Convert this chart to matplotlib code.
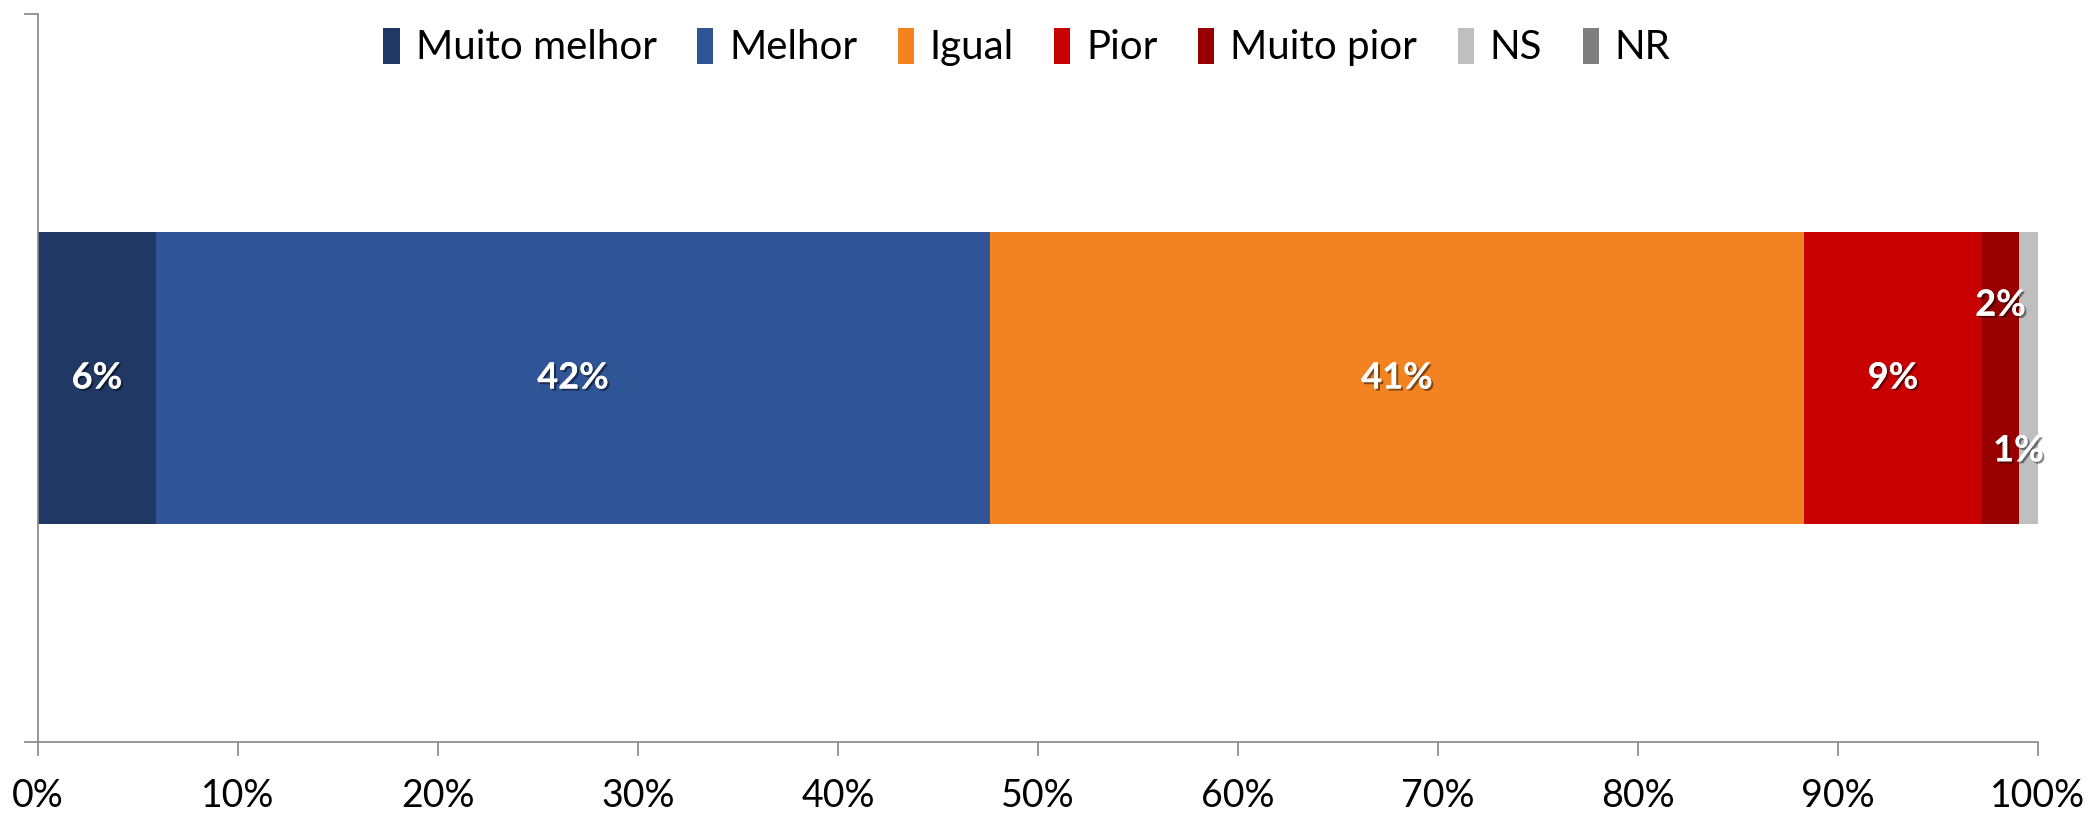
import matplotlib.pyplot as plt
import matplotlib.patheffects as pe
from matplotlib.patches import Patch

plt.rcParams['font.family'] = ['Lato', 'DejaVu Sans']

# Data
categories = ["Muito melhor", "Melhor", "Igual", "Pior", "Muito pior", "NS", "NR"]
values = [5.9, 41.7, 40.7, 8.9, 1.85, 0.95, 0.0]
labels = ["6%", "42%", "41%", "9%", "2%", "1%", ""]
colors = ["#203864", "#2F5597", "#F38321", "#C80000", "#980000", "#BFBFBF", "#7F7F7F"]
# small segments get their labels shifted up/down like in the original
label_dy = [0, 0, 0, 0, 0.1, -0.1, 0]
label_dx = [0, 0, 0, 0, 0, -0.5, 0]

fig = plt.figure(figsize=(20.93, 8.17), dpi=100)
ax = fig.add_axes([38 / 2093, 75 / 817, 2000 / 2093, 728 / 817])

shadow = [pe.withSimplePatchShadow(offset=(1.5, -1.5), shadow_rgbFace="black", alpha=0.45), pe.Normal()]

left = 0
for cat, val, lab, col, dy, dx in zip(categories, values, labels, colors, label_dy, label_dx):
    ax.barh(0, val, left=left, height=0.4, color=col, label=cat)
    if lab:
        ax.text(left + val / 2 + dx, dy, lab, ha="center", va="center", color="white",
                fontsize=26, fontweight="bold", path_effects=shadow)
    left += val

ax.set_xlim(0, 100)
ax.set_ylim(-0.5, 0.5)
ax.set_xticks(range(0, 101, 10))
ax.set_xticklabels([f"{t}%" for t in range(0, 101, 10)], fontsize=27)
ax.set_yticks([-0.5, 0.5])
ax.set_yticklabels([])
ax.tick_params(axis="x", length=10, width=1.2, color="#868686", pad=16)
ax.tick_params(axis="y", length=10, width=1.2, color="#868686")
for side in ["top", "right"]:
    ax.spines[side].set_visible(False)
for side in ["left", "bottom"]:
    ax.spines[side].set_color("#868686")
    ax.spines[side].set_linewidth(1.2)

handles = [Patch(facecolor=c, edgecolor="none", label=n) for n, c in zip(categories, colors)]
fig.legend(handles=handles, loc="center", bbox_to_anchor=(0.4907, 0.9425), ncol=7,
           frameon=False, fontsize=29, handlelength=0.4, handleheight=1.0,
           handletextpad=0.4, columnspacing=1.0)

fig.savefig("out.png", dpi=100)
